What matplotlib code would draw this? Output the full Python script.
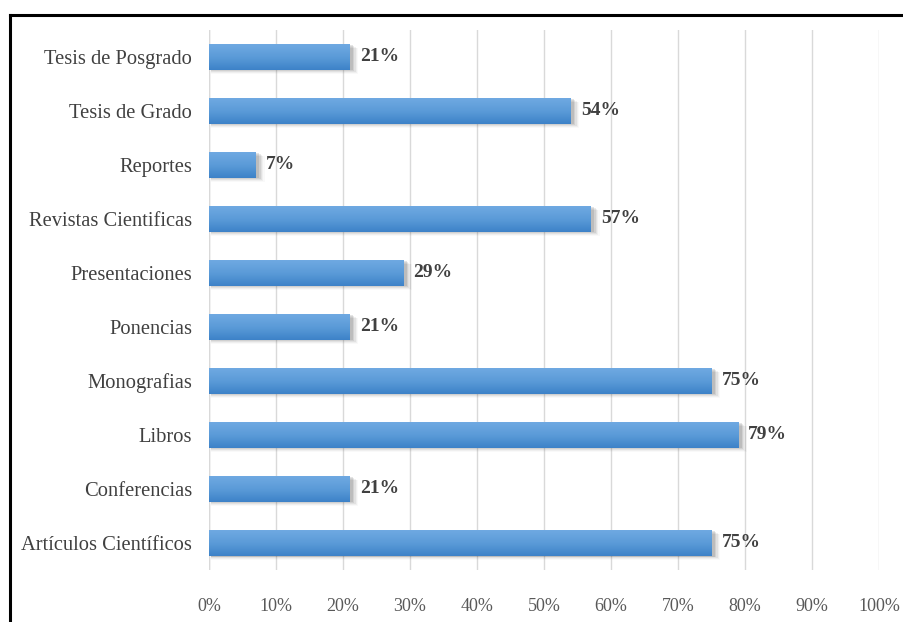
import numpy as np
import matplotlib.pyplot as plt
from matplotlib.lines import Line2D
from matplotlib.patches import Rectangle

# categories listed bottom to top
categorias = ["Artículos Científicos", "Conferencias", "Libros", "Monografias",
              "Ponencias", "Presentaciones", "Revistas Cientificas", "Reportes",
              "Tesis de Grado", "Tesis de Posgrado"]
porcentajes = [75, 21, 79, 75, 21, 29, 57, 7, 54, 21]
ticks_x = [0, 10, 20, 30, 40, 50, 60, 70, 80, 90, 100]

plt.rcParams['font.family'] = ['Liberation Serif', 'DejaVu Serif']

fig = plt.figure(figsize=(9.04, 6.22), dpi=100)
ax = fig.add_axes([0.2312, 0.0836, 0.7411, 0.8682])

alto = 0.47
y = np.arange(len(categorias))

# vertical gradient used to fill each bar (light on top, darker below)
grad = np.linspace(0, 1, 64).reshape(-1, 1)
cmap = plt.matplotlib.colors.LinearSegmentedColormap.from_list(
    "azul", ["#3d82c8", "#5b9bd8", "#6fa9e2"])

for yi, v in zip(y, porcentajes):
    # soft shadow under the bar
    for k, a in enumerate([0.14, 0.10, 0.07, 0.05, 0.03]):
        ax.add_patch(Rectangle((0.3, yi - alto / 2 - 0.015 * (k + 1)), v + 0.2 + 0.2 * k, alto,
                               facecolor="#404040", alpha=a, edgecolor="none", zorder=2))
    barra = ax.barh(yi, v, height=alto, color="none", edgecolor="none", zorder=3)[0]
    im = ax.imshow(grad, extent=[0, v, yi - alto / 2, yi + alto / 2], origin="lower",
                   cmap=cmap, aspect="auto", zorder=3)
    im.set_clip_path(barra)
    ax.text(v + 1.5, yi, f"{v}%", va="center", ha="left", fontsize=14,
            fontweight="bold", color="#404040", zorder=4)

ax.set_xlim(0, 100)
ax.set_ylim(-0.5, 9.5)
ax.set_xticks(ticks_x)
ax.set_xticklabels([f"{t}%" for t in ticks_x])
ax.set_yticks(y)
ax.set_yticklabels(categorias)
ax.tick_params(axis="x", length=0, pad=20, labelsize=13, labelcolor="#595959")
ax.tick_params(axis="y", length=0, pad=12, labelsize=14.8, labelcolor="#404040")
ax.grid(axis="x", color="#d9d9d9", linewidth=1)
ax.set_axisbelow(True)
for s in ax.spines.values():
    s.set_visible(False)
ax.axvline(0, color="#d9d9d9", linewidth=1, zorder=1)

# outer frame (top and left edges)
fig.add_artist(Line2D([10 / 904, 1], [1 - 15 / 622, 1 - 15 / 622], color="black", linewidth=2.2))
fig.add_artist(Line2D([10 / 904, 10 / 904], [0, 1 - 15 / 622], color="black", linewidth=2.2))

fig.savefig("out.png", dpi=100)
